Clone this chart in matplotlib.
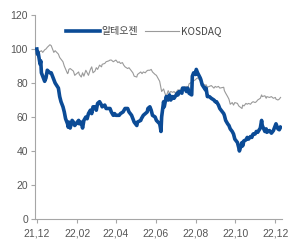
import pandas as pd
import matplotlib
matplotlib.use("Agg")
import matplotlib.pyplot as plt

plt.rcParams['font.family'] = ['Liberation Sans', 'Noto Sans CJK KR', 'DejaVu Sans']

# 알테오젠 (rebased, 21.12 = 100)
alteogen_dates = [
    "2021-12-01", "2021-12-02", "2021-12-03", "2021-12-06", "2021-12-07", "2021-12-08",
    "2021-12-10", "2021-12-13", "2021-12-15", "2021-12-17", "2021-12-21", "2021-12-23",
    "2021-12-27", "2021-12-29", "2022-01-03", "2022-01-05", "2022-01-07", "2022-01-10",
    "2022-01-12", "2022-01-14", "2022-01-17", "2022-01-18", "2022-01-19", "2022-01-21",
    "2022-01-24", "2022-01-26", "2022-01-28", "2022-02-03", "2022-02-04", "2022-02-07",
    "2022-02-09", "2022-02-11", "2022-02-14", "2022-02-16", "2022-02-18", "2022-02-21",
    "2022-02-23", "2022-02-25", "2022-02-28", "2022-03-02", "2022-03-04", "2022-03-07",
    "2022-03-10", "2022-03-11", "2022-03-15", "2022-03-17", "2022-03-21", "2022-03-23",
    "2022-03-25", "2022-03-28", "2022-03-30", "2022-04-01", "2022-04-06", "2022-04-08",
    "2022-04-12", "2022-04-15", "2022-04-19", "2022-04-21", "2022-04-25", "2022-04-27",
    "2022-04-29", "2022-05-03", "2022-05-04", "2022-05-09", "2022-05-10", "2022-05-13",
    "2022-05-16", "2022-05-19", "2022-05-20", "2022-05-23", "2022-05-25", "2022-05-27",
    "2022-05-31", "2022-06-02", "2022-06-07", "2022-06-08", "2022-06-09", "2022-06-10",
    "2022-06-13", "2022-06-14", "2022-06-17", "2022-06-20", "2022-06-22", "2022-06-24",
    "2022-06-27", "2022-06-29", "2022-07-04", "2022-07-05", "2022-07-07", "2022-07-11",
    "2022-07-12", "2022-07-15", "2022-07-18", "2022-07-20", "2022-07-22", "2022-07-26",
    "2022-07-27", "2022-07-29", "2022-08-01", "2022-08-02", "2022-08-04", "2022-08-08",
    "2022-08-09", "2022-08-11", "2022-08-16", "2022-08-17", "2022-08-19", "2022-08-22",
    "2022-08-25", "2022-08-29", "2022-08-31", "2022-09-02", "2022-09-05", "2022-09-07",
    "2022-09-13", "2022-09-14", "2022-09-16", "2022-09-19", "2022-09-21", "2022-09-23",
    "2022-09-26", "2022-09-28", "2022-09-30", "2022-10-04", "2022-10-06", "2022-10-07",
    "2022-10-11", "2022-10-12", "2022-10-14", "2022-10-17", "2022-10-19", "2022-10-21",
    "2022-10-24", "2022-10-26", "2022-10-28", "2022-10-31", "2022-11-02", "2022-11-04",
    "2022-11-08", "2022-11-10", "2022-11-11", "2022-11-15", "2022-11-17", "2022-11-18",
    "2022-11-22", "2022-11-25", "2022-11-28", "2022-12-01", "2022-12-02", "2022-12-05",
    "2022-12-07", "2022-12-09",
]
alteogen = [
    100, 97, 98, 91, 93, 86,
    84, 81, 83, 87.5, 86, 86,
    82, 80, 77, 72, 69, 66,
    63, 59, 56, 54, 57, 53.5,
    58, 57, 55, 58, 56, 57,
    53.5, 58, 60, 59, 62, 64,
    62, 66, 66, 64, 68, 69,
    67, 66, 67, 65, 65, 65,
    63, 61, 62, 61, 61, 62,
    63, 65, 65, 63, 61, 59,
    57, 55, 57, 58, 59, 61,
    62, 63, 65, 66, 64, 61,
    60, 58, 56, 54, 51.5, 60,
    69, 66, 72, 70, 73, 70,
    72, 71, 74, 73, 75, 74,
    77, 77, 75, 77, 74, 73,
    84, 86, 85, 88, 86, 83,
    82, 79, 76, 77, 72, 72,
    71, 70, 69, 69, 67, 65,
    62, 61, 58, 56, 55, 53,
    51.5, 50, 47, 45, 42, 40,
    45, 43, 46, 46.5, 48, 47,
    48.5, 48, 50, 50, 51.5, 51,
    53.5, 58, 55, 51.5, 53, 51,
    52, 50.5, 52, 55, 56, 53,
    52.5, 54,
]

# KOSDAQ (rebased)
kosdaq_dates = [
    "2021-12-01", "2021-12-02", "2021-12-06", "2021-12-08", "2021-12-10", "2021-12-13",
    "2021-12-15", "2021-12-17", "2021-12-21", "2021-12-23", "2021-12-27", "2021-12-29",
    "2022-01-03", "2022-01-05", "2022-01-07", "2022-01-10", "2022-01-12", "2022-01-17",
    "2022-01-18", "2022-01-19", "2022-01-21", "2022-01-26", "2022-01-28", "2022-02-03",
    "2022-02-04", "2022-02-07", "2022-02-09", "2022-02-11", "2022-02-14", "2022-02-16",
    "2022-02-18", "2022-02-21", "2022-02-23", "2022-02-25", "2022-02-28", "2022-03-02",
    "2022-03-04", "2022-03-07", "2022-03-10", "2022-03-11", "2022-03-15", "2022-03-17",
    "2022-03-21", "2022-03-23", "2022-03-25", "2022-03-28", "2022-03-30", "2022-04-01",
    "2022-04-04", "2022-04-06", "2022-04-08", "2022-04-11", "2022-04-13", "2022-04-15",
    "2022-04-19", "2022-04-21", "2022-04-25", "2022-04-27", "2022-04-29", "2022-05-03",
    "2022-05-04", "2022-05-09", "2022-05-11", "2022-05-13", "2022-05-16", "2022-05-18",
    "2022-05-20", "2022-05-23", "2022-05-25", "2022-05-27", "2022-05-31", "2022-06-02",
    "2022-06-07", "2022-06-09", "2022-06-10", "2022-06-13", "2022-06-15", "2022-06-17",
    "2022-06-20", "2022-06-22", "2022-06-24", "2022-06-27", "2022-06-29", "2022-07-01",
    "2022-07-05", "2022-07-07", "2022-07-11", "2022-07-12", "2022-07-15", "2022-07-18",
    "2022-07-20", "2022-07-22", "2022-07-26", "2022-07-28", "2022-08-01", "2022-08-02",
    "2022-08-04", "2022-08-08", "2022-08-09", "2022-08-11", "2022-08-16", "2022-08-17",
    "2022-08-19", "2022-08-22", "2022-08-25", "2022-08-29", "2022-08-31", "2022-09-02",
    "2022-09-05", "2022-09-07", "2022-09-13", "2022-09-14", "2022-09-16", "2022-09-19",
    "2022-09-21", "2022-09-23", "2022-09-26", "2022-09-28", "2022-09-30", "2022-10-04",
    "2022-10-06", "2022-10-11", "2022-10-12", "2022-10-14", "2022-10-17", "2022-10-19",
    "2022-10-21", "2022-10-24", "2022-10-26", "2022-10-28", "2022-10-31", "2022-11-02",
    "2022-11-04", "2022-11-08", "2022-11-10", "2022-11-11", "2022-11-15", "2022-11-17",
    "2022-11-18", "2022-11-22", "2022-11-25", "2022-11-28", "2022-12-01", "2022-12-02",
    "2022-12-05", "2022-12-07", "2022-12-09",
]
kosdaq = [
    100, 99, 98.5, 99, 98, 99.5,
    100, 101, 102.5, 102, 98, 99,
    97, 95, 94, 92.5, 90, 85.5,
    86, 88, 88.5, 87, 84.5, 86.5,
    85, 83.5, 86, 84, 87.5, 86,
    84.5, 88, 89.5, 86, 87, 89,
    88, 90.5, 89.5, 91, 91.5, 92.5,
    93, 93.5, 93.5, 92.5, 93, 93.5,
    92, 92.5, 91.5, 92, 90.5, 89.5,
    88.5, 89, 87, 86, 84, 83.5,
    85, 86.5, 85.5, 86.5, 86, 87,
    87.5, 87.5, 88, 86.5, 85, 84.5,
    81, 77, 75, 76.5, 74, 72,
    75.5, 74, 75, 74.5, 75, 74,
    76, 75.5, 77, 76, 77.5, 78,
    77, 79.5, 80.5, 81, 82, 82.5,
    83, 81.5, 82, 80, 78.5, 79,
    77.5, 78, 78.5, 77, 78, 77.5,
    78, 77, 77.5, 75.5, 74, 72,
    70.5, 67.5, 68.5, 67, 68.5, 68,
    66.5, 65, 67, 66.5, 68, 67.5,
    68, 67.5, 68.5, 69, 68.5, 69,
    70, 71, 73, 72, 72.5, 71,
    72, 71.5, 72, 71, 71.5, 70.5,
    70, 70.5, 71.5,
]

yticks = [0, 20, 40, 60, 80, 100, 120]
xtick_dates = ["2021-12-01", "2022-02-01", "2022-04-01", "2022-06-01",
               "2022-08-01", "2022-10-01", "2022-12-01"]
xtick_labels = ["21,12", "22,02", "22,04", "22,06", "22,08", "22,10", "22,12"]

fig = plt.figure(figsize=(2.93, 2.40), dpi=100)
ax = fig.add_axes([0.119, 0.0875, 0.843, 0.85])

ax.plot(pd.to_datetime(kosdaq_dates), kosdaq, color='#9a9a9a', lw=0.8, label='KOSDAQ', zorder=2)
ax.plot(pd.to_datetime(alteogen_dates), alteogen, color='#0b4b96', lw=2.6,
        label='알테오젠', zorder=3, solid_joinstyle='round')

ax.set_ylim(0, 120)
ax.set_yticks(yticks)
ax.set_xlim(pd.Timestamp("2021-11-28"), pd.Timestamp("2022-12-11"))
ax.set_xticks(pd.to_datetime(xtick_dates))
ax.set_xticklabels(xtick_labels)

for s in ['top', 'right']:
    ax.spines[s].set_visible(False)
for s in ['left', 'bottom']:
    ax.spines[s].set_color('#a6a6a6')
    ax.spines[s].set_linewidth(0.8)
ax.tick_params(axis='both', colors='#a6a6a6', labelcolor='#555555', labelsize=7.5,
               length=3, width=0.8, pad=2)
ax.tick_params(axis='x', pad=4)

handles, labels = ax.get_legend_handles_labels()
leg = ax.legend(handles[::-1], labels[::-1], loc='center', bbox_to_anchor=(0.49, 0.87),
                bbox_transform=fig.transFigure, ncol=2, frameon=False, fontsize=7.2,
                handlelength=3.4, handletextpad=0.15, columnspacing=0.7)
for t in leg.get_texts():
    t.set_color('#444444')
    t.set_family(['Noto Sans CJK KR', 'Liberation Sans'])

fig.savefig('out.png', dpi=100)
